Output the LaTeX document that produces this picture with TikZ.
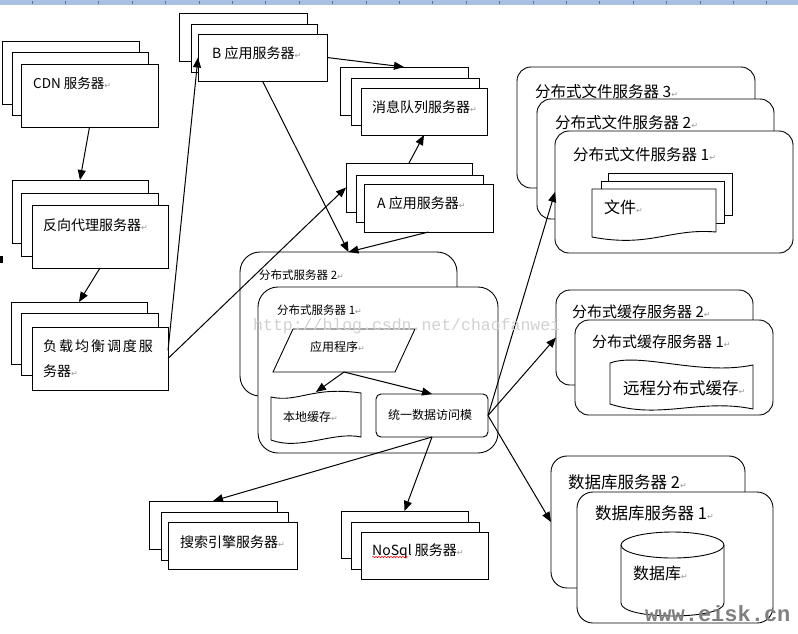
\documentclass[tikz,border=0pt]{standalone}
\usepackage{fontspec}
\setmainfont{Noto Sans CJK SC}
\newfontfamily\djv{DejaVu Sans}
\newfontfamily\lmono{Liberation Mono}
\usetikzlibrary{arrows.meta,decorations.pathmorphing}
\definecolor{rulerblue}{RGB}{168,192,226}
\definecolor{rulertick}{RGB}{95,115,155}
\newcommand\retmark{{\djv\fontsize{8}{8}\selectfont\textcolor{black!40}{↵}}}
\newcommand\fsz[1]{\fontsize{#1}{#1}\selectfont}
\newcommand\mybox[6]{\node[#1, minimum width={#5pt-#3pt}, minimum height={#6pt-#4pt}] (#2) at (#3,#4) {};}
\begin{document}
\begin{tikzpicture}[x=1pt,y=-1pt,
  rbox/.style={draw, fill=white, line width=0.9pt, anchor=north west, inner sep=0pt, outer sep=0pt},
  rrbox/.style={rbox, rounded corners=14pt},
  ghost/.style={anchor=north west, inner sep=0pt, outer sep=0pt},
  shapeline/.style={draw, fill=white, line width=0.9pt},
  lbl/.style={anchor=west, inner sep=0pt},
  arr/.style={line width=1pt, -{Triangle[length=10pt,width=8pt]}}]
\useasboundingbox (0,0) rectangle (798,633);
\fill[white] (0,0) rectangle (798,633);
% ruler
\fill[rulerblue] (0,0) rectangle (798,5);
\foreach \k in {0,...,23} \draw[rulertick, line width=0.6pt] ({31.8+33.4*\k},1) -- ({31.8+33.4*\k},4);
\fill[black] (0,256) rectangle (3,263);

% stacked rectangles
\mybox{rbox}{cdnA}{2}{41}{139}{104}
\mybox{rbox}{cdnB}{12}{52}{148}{115}
\mybox{rbox}{cdnC}{21}{64}{158}{127}
\mybox{rbox}{revA}{12}{180}{148}{243}
\mybox{rbox}{revB}{21}{193}{158}{256}
\mybox{rbox}{revC}{32}{205}{168}{268}
\mybox{rbox}{lbA}{11}{302}{147}{364}
\mybox{rbox}{lbB}{21}{313}{158}{375}
\mybox{rbox}{lbC}{32}{327}{168}{390}
\mybox{rbox}{BA}{179}{13}{307}{61}
\mybox{rbox}{BB}{191}{24}{317}{72}
\mybox{rbox}{BC}{198}{34}{327}{81}
\mybox{rbox}{MA}{340}{67}{468}{115}
\mybox{rbox}{MB}{351}{78}{479}{125}
\mybox{rbox}{MC}{361}{88}{487}{135}
\mybox{rbox}{AA}{346}{163}{472}{212}
\mybox{rbox}{AB}{356}{175}{483}{222}
\mybox{rbox}{AC}{364}{184}{493}{232}
\mybox{rbox}{sA}{149}{501}{277}{549}
\mybox{rbox}{sB}{161}{512}{288}{560}
\mybox{rbox}{sC}{168}{522}{297}{569}
\mybox{rbox}{nA}{341}{511}{468}{558}
\mybox{rbox}{nB}{351}{522}{479}{569}
\mybox{rbox}{nC}{361}{532}{488}{579}

% distributed server
\mybox{rrbox,rounded corners=20pt}{ds2}{240}{252}{457}{396}
\mybox{rrbox,rounded corners=20pt}{ds1}{258}{287}{498}{453}
\mybox{ghost}{app}{273}{329}{415}{372}
\draw[shapeline] (293,329) -- (415,329) -- (395,372) -- (273,372) -- cycle;
\mybox{ghost}{lc}{271}{392}{361}{441}
\draw[shapeline] (271,397) .. controls (298,403) and (312,386) .. (361,393) -- (361,437)
  .. controls (334,431) and (300,451) .. (271,440) -- cycle;
\mybox{rrbox,rounded corners=5pt}{uda}{376}{394}{488}{437}

% file servers
\mybox{rrbox}{f3}{517}{67}{755}{188}
\mybox{rrbox}{f2}{537}{99}{774}{219}
\mybox{rrbox}{f1}{555}{131}{793}{253}
\mybox{rbox}{fdA}{608}{173}{732}{215}
\mybox{rbox}{fdB}{601}{181}{724}{223}
\mybox{ghost}{fd}{592}{189}{716}{242}
\draw[shapeline] (592,189) -- (716,189) -- (716,232) .. controls (670,228) and (650,248) .. (592,237) -- cycle;

% cache servers
\mybox{rrbox}{c2}{556}{290}{753}{385}
\mybox{rrbox}{c1}{575}{320}{773}{415}
\mybox{ghost}{rc}{610}{355}{753}{412}
\draw[shapeline] (610,363) .. controls (640,352) and (700,376) .. (753,365) -- (753,409)
  .. controls (700,398) and (660,420) .. (610,404) -- cycle;

% database servers
\mybox{rrbox,rounded corners=16pt}{db2}{551}{456}{745}{588}
\mybox{rrbox,rounded corners=16pt}{db1}{577}{492}{773}{623}
\mybox{ghost}{cyl}{621}{532}{724}{616}
\draw[shapeline] (621,545) -- (621,603) .. controls (621,620.3) and (724,620.3) .. (724,603) -- (724,545);
\draw[shapeline] (672.5,545) ellipse [x radius=51.5, y radius=13];

% texts
\node[lbl, font=\fsz{13.5}] (tcdn) at (33,83) {CDN 服务器\retmark};
\node[lbl, font=\fsz{14}] (tB) at (212,53) {B 应用服务器\retmark};
\node[lbl, font=\fsz{14}] (tM) at (372,107) {消息队列服务器\retmark};
\node[lbl, font=\fsz{14}] (tA) at (377,203) {A 应用服务器\retmark};
\node[lbl, font=\fsz{14}] (trev) at (43,225) {反向代理服务器\retmark};
\node[lbl, font=\fsz{14}\addfontfeature{LetterSpace=14}] (tlb1) at (43,346) {负载均衡调度服};
\node[lbl, font=\fsz{14}] (tlb2) at (43,371) {务器\retmark};
\node[lbl, font=\fsz{11.5}] (tds2) at (259,275) {分布式服务器 2\retmark};
\node[lbl, font=\fsz{11.5}] (tds1) at (277,310) {分布式服务器 1\retmark};
\node[lbl, font=\fsz{12}] (tapp) at (310,347) {应用程序\retmark};
\node[lbl, font=\fsz{12}] (tlc) at (283,417) {本地缓存\retmark};
\node[lbl, font=\fsz{12}] (tuda) at (388,415) {统一数据访问模};
\node[lbl, font=\fsz{15.5}] (tf3) at (535,92) {分布式文件服务器 3\retmark};
\node[lbl, font=\fsz{15.5}] (tf2) at (555,123) {分布式文件服务器 2\retmark};
\node[lbl, font=\fsz{15.5}] (tf1) at (573,155) {分布式文件服务器 1\retmark};
\node[lbl, font=\fsz{16}] (tfile) at (604,207) {文件\retmark};
\node[lbl, font=\fsz{15}] (tc2) at (572,312) {分布式缓存服务器 2\retmark};
\node[lbl, font=\fsz{15}] (tc1) at (592,342) {分布式缓存服务器 1\retmark};
\node[lbl, font=\fsz{16.5}] (trc) at (623,388) {远程分布式缓存\retmark};
\node[lbl, font=\fsz{14}] (ts) at (180,542) {搜索引擎服务器\retmark};
\node[lbl, font=\fsz{14}] (tn) at (372,551) {NoSql 服务器\retmark};
\draw[red, line width=0.5pt, decorate, decoration={snake, amplitude=0.7pt, segment length=3pt}] (372,557) -- (408,557);
\node[lbl, font=\fsz{16.5}] (td2) at (568,482) {数据库服务器 2\retmark};
\node[lbl, font=\fsz{16.5}] (td1) at (595,513) {数据库服务器 1\retmark};
\node[lbl, font=\fsz{16}] (tdb) at (633,573) {数据库\retmark};

% connectors
\draw[arr] (cdnC.south) -- (revA.north);
\draw[arr] (revC.south) -- (lbA.north);
\draw[arr] ([yshift=8pt]lbC.east) -- (BC.west);
\draw[arr] (lbC.east) -- (AA.west);
\draw[arr] (BC.east) -- (MA.north);
\draw[arr] (BC.south) -- (ds2.north);
\draw[arr] (AC.south) -- (ds2.north);
\draw[arr] (AA.north) -- (MC.south);
\draw[arr] (app.south) -- (lc.north);
\draw[arr] (app.south) -- (uda.north);
\draw[arr] (uda.east) -- (f1.west);
\draw[arr] (uda.east) -- (c2.west);
\draw[arr] (uda.east) -- (db2.west);
\draw[arr] (uda.south) -- (sA.north);
\draw[arr] (uda.south) -- (nA.north);

% watermarks
\node[lbl, font=\lmono\fsz{16.5}, text=black!18] (wm1) at (253,326) {http://blog.csdn.net/chaofanwei};
\node[lbl, font=\lmono\bfseries\fsz{22}, text=black!50] (wm2) at (645,614) {www.eisk.cn};
\end{tikzpicture}
\end{document}
